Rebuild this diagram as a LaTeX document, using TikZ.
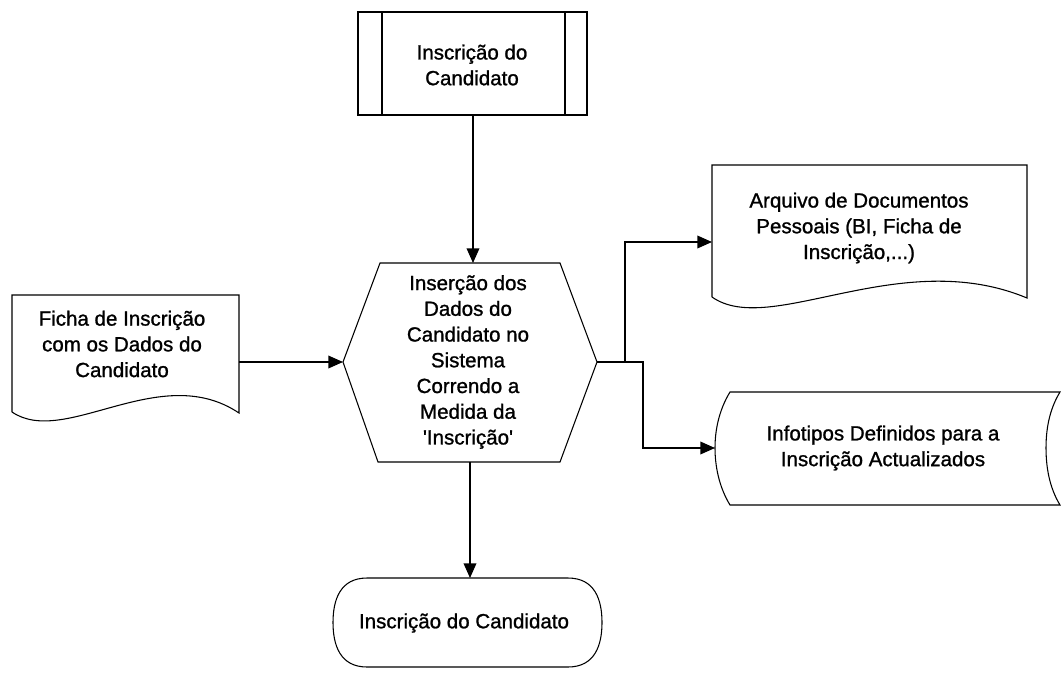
\documentclass[tikz,border=0pt]{standalone}
\usepackage{fontspec}
\newfontfamily\labelfont{Liberation Sans}[FakeBold=1.1]
\usetikzlibrary{arrows.meta}
\begin{document}
\begin{tikzpicture}[x=0.75pt,y=-0.75pt,
  outline/.style={draw=black,line width=0.8pt,line join=miter},
  flow/.style={draw=black,line width=1.1pt,-{Triangle[length=11pt,width=9.5pt]}},
  caption/.style={align=center,font=\labelfont\fontsize{15.4}{19.3}\selectfont,inner sep=0pt}]
\useasboundingbox[fill=white] (0,0) rectangle (1062,675);

% predefined process at the top
\draw[outline] (358,12) rectangle (587,115);
\draw[outline] (382,12) -- (382,115) (565,12) -- (565,115);
\node[caption] (inscr) at (472,65) {Inscrição do\\Candidato};
\coordinate (inscrB) at (473,115);

% central hexagon (preparation)
\draw[outline] (343,362) -- (380,263) -- (560,263) -- (597,362)
  -- (560,462) -- (378,462) -- cycle;
\node[caption] (insert) at (468,362) {Inserção dos\\Dados do\\Candidato no\\Sistema\\Correndo a\\Medida da\\'Inscrição'};
\coordinate (hexT) at (473,263);
\coordinate (hexL) at (343,362);
\coordinate (hexR) at (597,362);
\coordinate (hexB) at (470,462);

% input document on the left
\draw[outline] (12,412) -- (12,295) -- (239,295) -- (239,413)
  .. controls (160,360) and (65,448) .. (12,412);
\node[caption] (ficha) at (122,344) {Ficha de Inscrição\\com os Dados do\\Candidato};
\coordinate (fichaR) at (239,362);

% output document on the right
\draw[outline] (712,297) -- (712,165) -- (1027,165) -- (1027,298)
  .. controls (900,245) and (770,338) .. (712,297);
\node[caption] (arquivo) at (859,228) {Arquivo de Documentos\\Pessoais (BI, Ficha de\\Inscrição,...)};
\coordinate (arquivoL) at (712,242);

% stored data on the right
\draw[outline] (730,392) -- (1060,392)
  .. controls (1049,410) and (1046,430) .. (1046,448)
  .. controls (1046,466) and (1049,487) .. (1060,505)
  -- (730,505)
  .. controls (719,487) and (715,466) .. (715,448)
  .. controls (715,430) and (719,410) .. (730,392) -- cycle;
\node[caption] (infotipos) at (883,448) {Infotipos Definidos para a\\Inscrição Actualizados};
\coordinate (infotiposL) at (715,448);

% terminator at the bottom
\draw[outline] (367,578) -- (568,578)
  .. controls (595,578) and (602,600) .. (602,622.5)
  .. controls (602,645) and (595,667) .. (568,667)
  -- (367,667)
  .. controls (340,667) and (333,645) .. (333,622.5)
  .. controls (333,600) and (340,578) .. (367,578) -- cycle;
\node[caption] (fim) at (464,623) {Inscrição do Candidato};
\coordinate (fimT) at (470,578);

% connectors
\coordinate (split) at (625,362);
\coordinate (split2) at (643,362);
\draw[flow] (inscrB) -- (hexT);
\draw[flow] (fichaR) -- (hexL);
\draw[flow] (hexB) -- (fimT);
\draw[flow] (hexR) -- (split) |- (arquivoL);
\draw[flow] (split) -- (split2) |- (infotiposL);
\end{tikzpicture}
\end{document}
